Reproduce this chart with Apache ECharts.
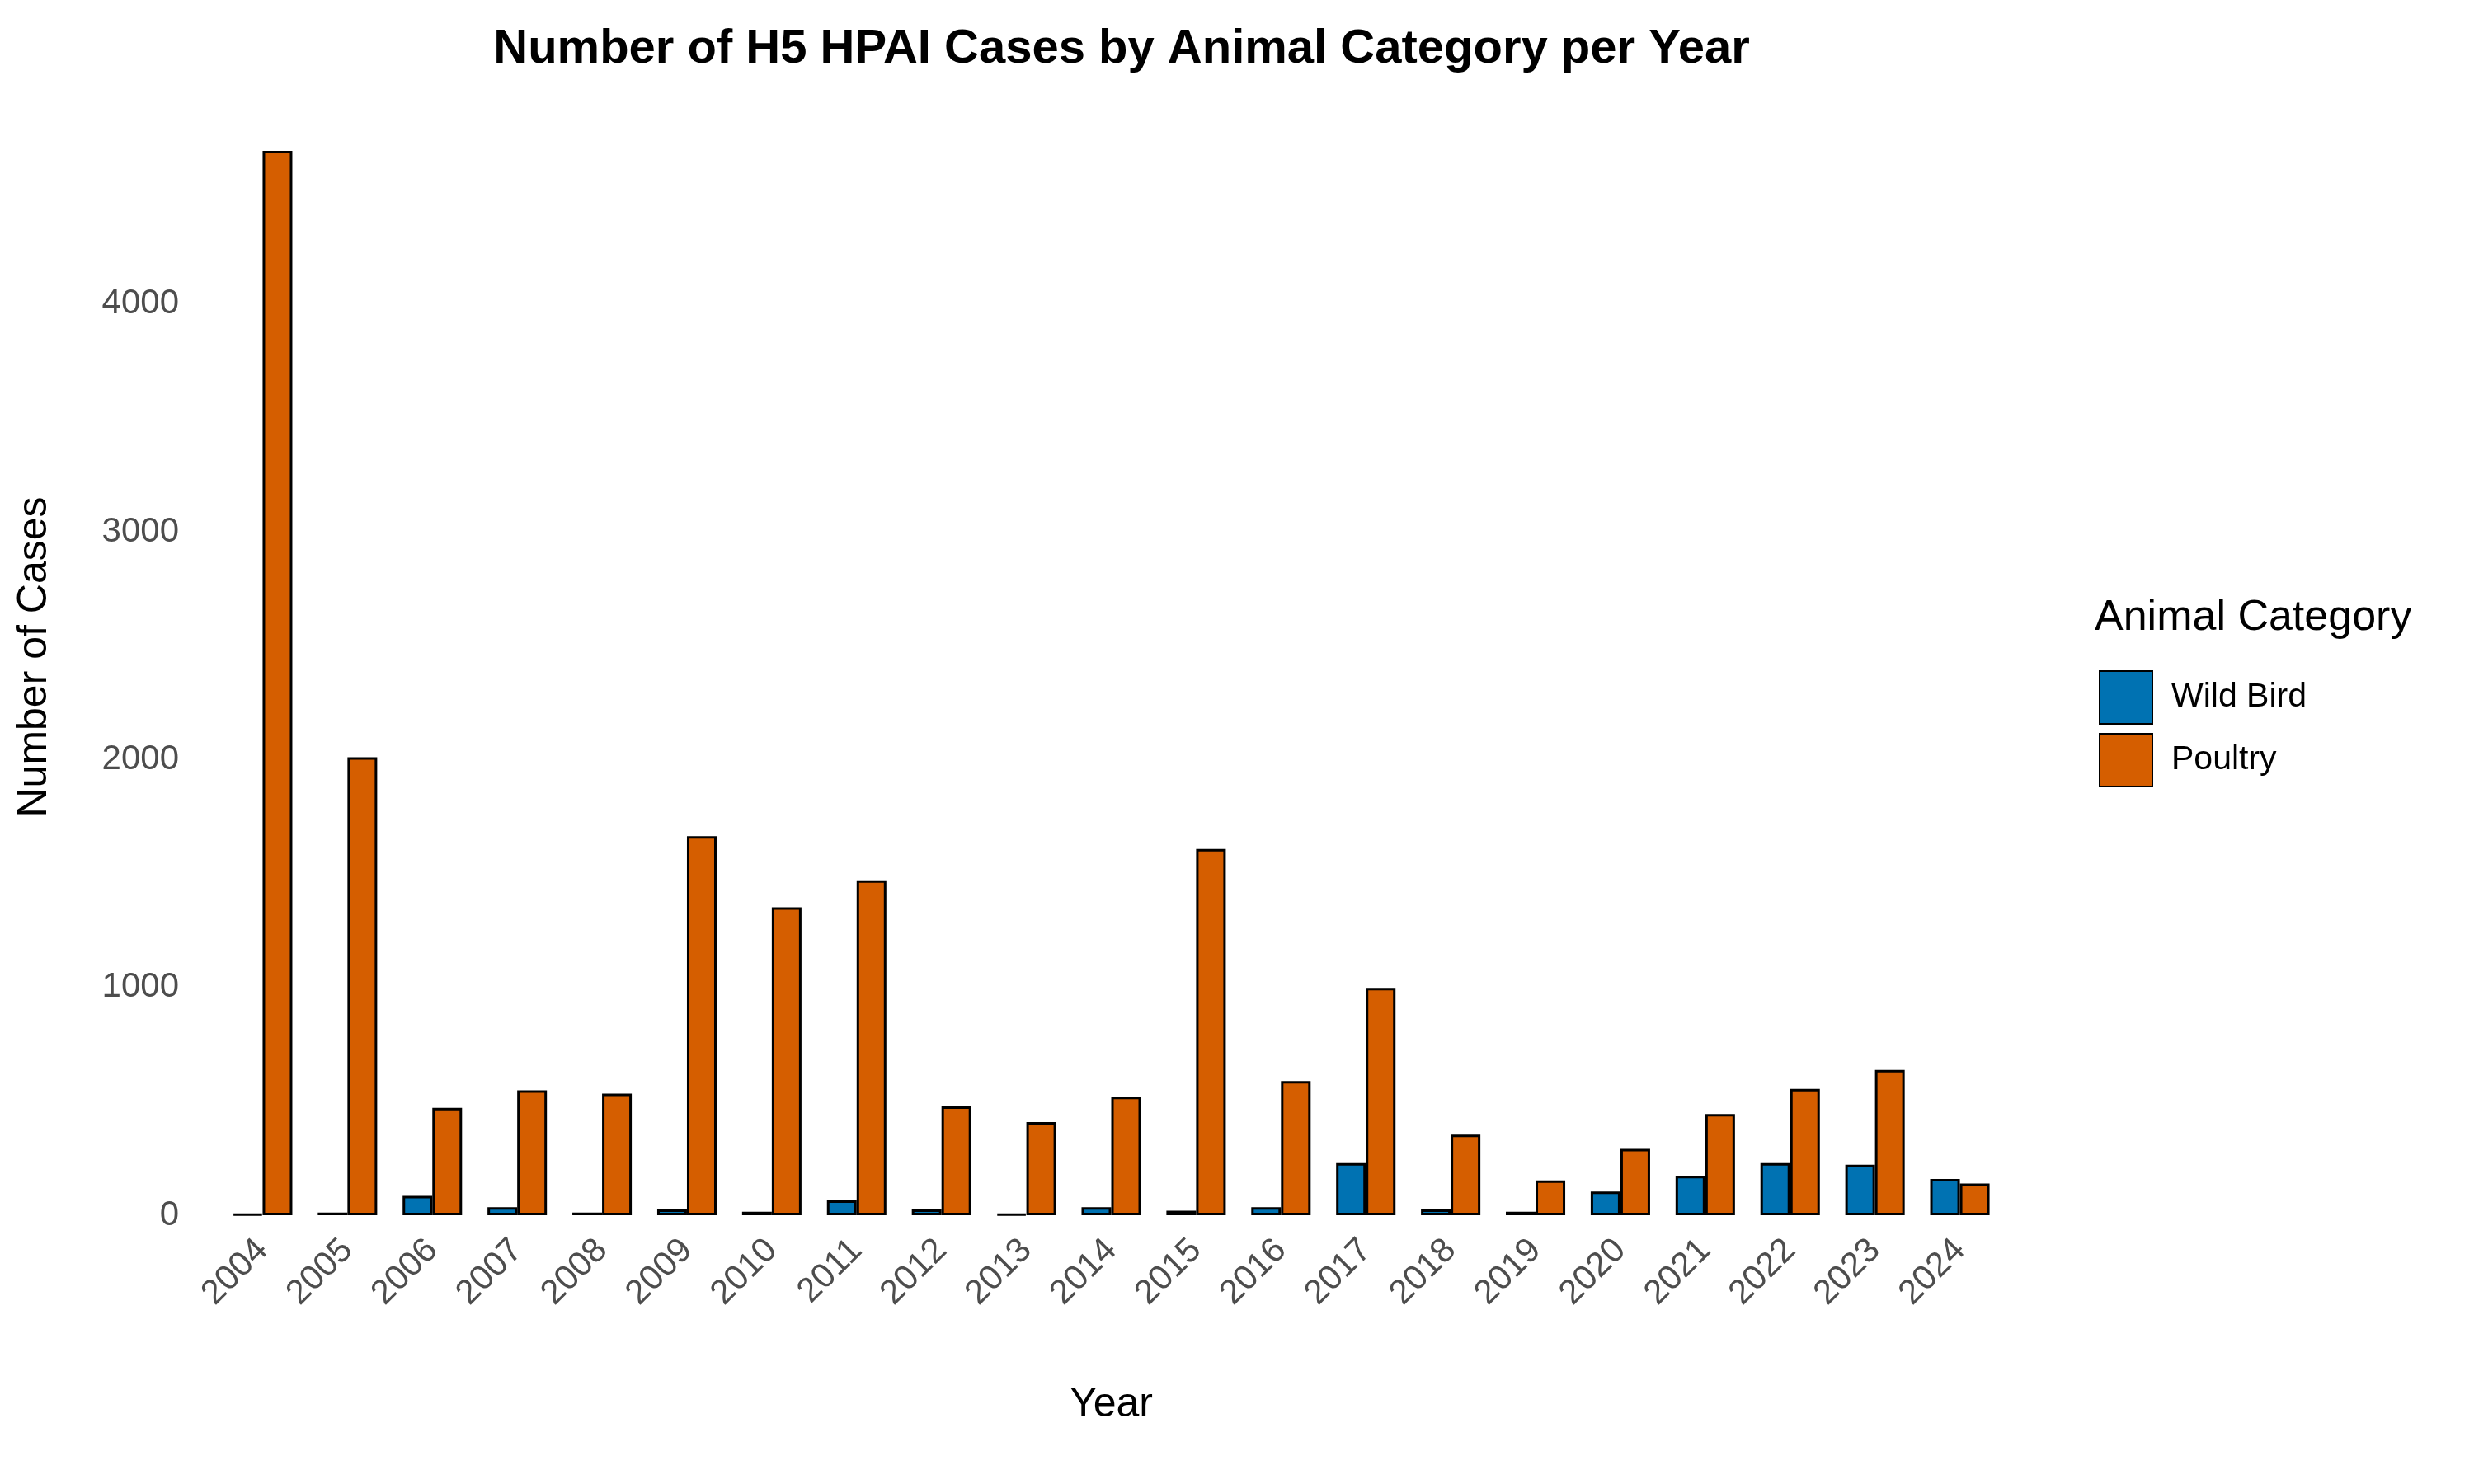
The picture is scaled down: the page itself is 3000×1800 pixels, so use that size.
<!DOCTYPE html>
<html><head><meta charset="utf-8">
<script src="https://cdn.jsdelivr.net/npm/echarts@6/dist/echarts.min.js"></script>
<style>html,body{margin:0;background:#fff}#c{width:3000px;height:1800px}</style>
</head><body><div id="c"></div>
<script>
const years = ['2004','2005','2006','2007','2008','2009','2010','2011','2012','2013','2014','2015','2016','2017','2018','2019','2020','2021','2022','2023','2024'];
const wildBird = [5, 12, 85, 35, 12, 25, 15, 65, 25, 5, 35, 20, 35, 229, 25, 15, 104, 173, 229, 222, 159];
const poultry = [4672, 2010, 471, 548, 534, 1664, 1352, 1470, 478, 409, 520, 1608, 589, 998, 354, 153, 291, 444, 555, 638, 139];

const chart = echarts.init(document.getElementById('c'));
const font = 'Liberation Sans, Arial, sans-serif';
chart.setOption({
  textStyle: {fontFamily: font},
  title: {text: 'Number of H5 HPAI Cases by Animal Category per Year', left: 1355, top: 26, textAlign: 'center',
    textStyle: {fontSize: 58, fontWeight: 'bold', color: '#000', fontFamily: font}},
  legend: {
    orient: 'vertical', left: 2540, top: 808, itemWidth: 64, itemHeight: 64, itemGap: 10, icon: 'rect',
    textStyle: {fontSize: 41, color: '#000', padding: [0, 0, 0, 18]},
    data: ['Wild Bird', 'Poultry']
  },
  graphic: [{type: 'text', left: 2540, top: 724, style: {text: 'Animal Category', fontSize: 52, fill: '#000', fontFamily: font}}],
  grid: {left: 267, right: 572, top: 120, bottom: 326},
  xAxis: {
    type: 'category', data: years,
    name: 'Year', nameLocation: 'middle', nameGap: 205,
    nameTextStyle: {fontSize: 50, color: '#000'},
    axisLine: {show: false}, axisTick: {show: false},
    axisLabel: {rotate: 45, fontSize: 42, color: '#4d4d4d', margin: 36, interval: 0}
  },
  yAxis: {
    type: 'value', min: 0, max: 4900, interval: 100,
    name: 'Number of Cases', nameLocation: 'middle', nameGap: 200,
    nameTextStyle: {fontSize: 50, color: '#000'},
    splitLine: {show: false}, axisLine: {show: false}, axisTick: {show: false},
    axisLabel: {fontSize: 42, color: '#4d4d4d', margin: 50,
      formatter: v => (v % 1000 === 0 ? String(v) : '')}
  },
  series: [
    {name: 'Wild Bird', type: 'bar', data: wildBird, barGap: '0%', barCategoryGap: '30%',
      itemStyle: {color: '#0072B2', borderColor: '#000', borderWidth: 3}},
    {name: 'Poultry', type: 'bar', data: poultry,
      itemStyle: {color: '#D55E00', borderColor: '#000', borderWidth: 3}}
  ]
});
</script></body></html>
